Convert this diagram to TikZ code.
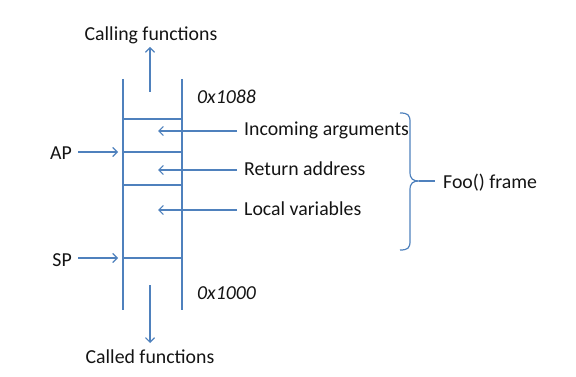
\documentclass[tikz,border=0pt]{standalone}
\usepackage{fontspec}
\setmainfont{Carlito}
\usetikzlibrary{arrows.meta}
\usetikzlibrary{positioning}
\definecolor{officeblue}{HTML}{4F81BD}
\definecolor{textgrey}{HTML}{141414}
\begin{document}
\begin{tikzpicture}[
        x=1pt, y=-1pt,
        wall/.style={draw=officeblue, line width=1.2pt},
        arrow/.style={-{Straight Barb[length=4.5pt, width=9pt]}, draw=officeblue, line width=1.2pt},
        lbl/.style={font=\fontsize{19.8}{22}\selectfont, text=textgrey, inner sep=0pt},
        addr/.style={lbl, font=\fontsize{19.8}{22}\selectfont\itshape},
      ]
      \useasboundingbox (0,0) rectangle (576,377);

      % === Stack walls ===
      \coordinate (lt) at (123,79);
      \coordinate (lb) at (123,310);
      \coordinate (rt) at (182,79);
      \coordinate (rb) at (182,310);
      \draw[wall] (lt) -- (lb);
      \draw[wall] (rt) -- (rb);

      % slot boundaries
      \foreach \n/\y in {a/119, b/152, c/185, d/258} {
        \coordinate (s\n l) at (123,\y);
        \coordinate (s\n r) at (182,\y);
        \draw[wall] (s\n l) -- (s\n r);
      }

      % === Growth direction ===
      \node[lbl] (calling) at (151,35) {Calling functions};
      \coordinate (upfrom) at (150,92);
      \coordinate (upto) at (150,47);
      \draw[arrow] (upfrom) -- (upto);

      \node[lbl] (called) at (150,357) {Called functions};
      \coordinate (dnfrom) at (150,285);
      \coordinate (dnto) at (150,343);
      \draw[arrow] (dnfrom) -- (dnto);

      % === Addresses ===
      \node[addr, anchor=west] (hiaddr) at (197,97) {0x1088};
      \node[addr, anchor=west] (loaddr) at (197,293) {0x1000};

      % === Pointers ===
      \node[lbl, anchor=east] (ap) at (72,153) {AP};
      \coordinate (apto) at (118,152);
      \draw[arrow] (78,152) -- (apto);

      \node[lbl, anchor=east] (sp) at (72,260) {SP};
      \coordinate (spto) at (118,258);
      \draw[arrow] (78,258) -- (spto);

      % === Slot contents ===
      \foreach \n/\y/\t in {args/130/Incoming arguments, ret/169/Return address, locals/209/Local variables} {
        \node[lbl, anchor=west] (\n) at (244,\y) {\t};
        \coordinate (\n to) at (158,\y+1);
        \draw[arrow] (237,\y+1) -- (\n to);
      }

      % === Frame brace ===
      \coordinate (brtop) at (400,113);
      \coordinate (brtip) at (419,181);
      \coordinate (brbot) at (400,250);
      \draw[wall] (brtop) .. controls (408,113) and (410,115) .. (410,122)
        -- (410,172) .. controls (410,179) and (413,181) .. (brtip)
        .. controls (413,181) and (410,183) .. (410,190)
        -- (410,241) .. controls (410,248) and (408,250) .. (brbot);
      \node[lbl, anchor=west] (frame) at (443,183) {Foo() frame};
      \draw[wall] (brtip) -- (435,181);

      \end{tikzpicture}
\end{document}
